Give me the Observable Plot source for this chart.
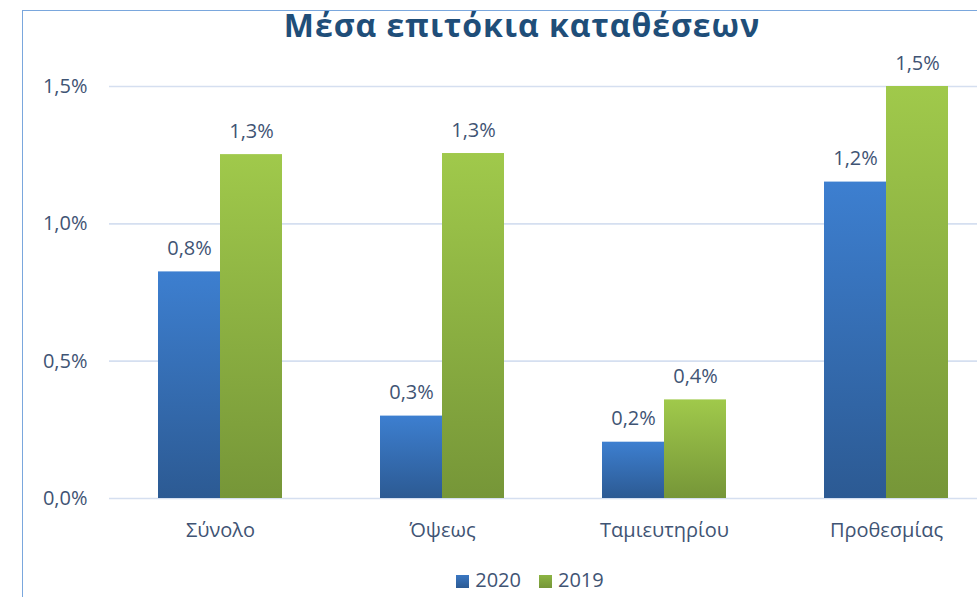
<!DOCTYPE html>
<html><head><meta charset="utf-8">
<script src="https://cdn.jsdelivr.net/npm/d3@7"></script>
<script src="https://cdn.jsdelivr.net/npm/@observablehq/plot@0.6"></script>
<style>
body{margin:0;background:#fff;}
#wrap{position:relative;width:977px;height:597px;overflow:hidden;font-family:"Open Sans",sans-serif;background:#fff;}
#frame{position:absolute;left:22px;top:10px;width:1100px;height:800px;border-left:1.5px solid #7aa7dd;border-top:1.5px solid #7aa7dd;}
#title{position:absolute;left:22px;width:1000px;top:5px;text-align:center;font-weight:700;font-size:32px;letter-spacing:1px;color:#1f4e79;line-height:40px;}
#chart{position:absolute;left:0;top:50px;}
#legend{position:absolute;left:0;width:1060px;top:566px;display:flex;justify-content:center;gap:18px;font-size:20px;color:#3f5474;line-height:28px;}
#legend span.sw{display:inline-block;width:13px;height:13px;margin-right:6px;vertical-align:-1px;}
</style></head>
<body>
<div id="wrap">
  <div id="frame"></div>
  <div id="title">Μέσα επιτόκια καταθέσεων</div>
  <div id="chart"></div>
  <div id="legend"></div>
</div>
<script>
const categories = ["Σύνολο", "Όψεως", "Ταμιευτηρίου", "Προθεσμίας"];
const series = ["2020", "2019"];
const values2020 = [0.825, 0.30, 0.205, 1.152];
const values2019 = [1.252, 1.256, 0.359, 1.50];
const yTicks = [0, 0.5, 1.0, 1.5];
const seriesColors = {"2020": "#3a77c2", "2019": "#8cb443"};

const rows = [];
categories.forEach((c, i) => {
  rows.push({category: c, series: "2020", value: values2020[i]});
  rows.push({category: c, series: "2019", value: values2019[i]});
});
const fmt = v => d3.format(".1f")(v).replace(".", ",") + "%";
const textColor = "#3f5474";

const chart = Plot.plot({
  width: 977,
  height: 500,
  marginLeft: 108,
  marginRight: 0,
  marginTop: 36,
  marginBottom: 52,
  style: {fontFamily: "'Open Sans', sans-serif", fontSize: "20px", color: textColor, background: "transparent", overflow: "visible"},
  fx: {domain: categories, range: [108, 998.7], padding: 0, label: null},
  x: {domain: series, paddingInner: 0, paddingOuter: 0.767, axis: null},
  y: {domain: [0, 1.5], nice: false, label: null},
  marks: [
    Plot.ruleY(yTicks, {stroke: "#d5dff0", strokeWidth: 1.6}),
    Plot.barY(rows.filter(d => d.series === "2020"), {fx: "category", x: "series", y: "value", fill: "url(#g2020)", inset: 0}),
    Plot.barY(rows.filter(d => d.series === "2019"), {fx: "category", x: "series", y: "value", fill: "url(#g2019)", inset: 0}),
    Plot.text(rows, {fx: "category", x: "series", y: "value", text: d => fmt(d.value), lineAnchor: "bottom", dy: -17, fill: textColor, fontSize: 20}),
    Plot.axisY(yTicks, {tickSize: 0, tickPadding: 22, tickFormat: fmt, fontSize: 20}),
    Plot.axisFx({anchor: "bottom", tickSize: 0, tickPadding: 24, fontSize: 20, label: null})
  ]
});

const ns = "http://www.w3.org/2000/svg";
const defs = document.createElementNS(ns, "defs");
function grad(id, top, bottom) {
  const g = document.createElementNS(ns, "linearGradient");
  g.setAttribute("id", id);
  g.setAttribute("x1", "0"); g.setAttribute("y1", "0");
  g.setAttribute("x2", "0"); g.setAttribute("y2", "1");
  [[0, top], [1, bottom]].forEach(([o, c]) => {
    const s = document.createElementNS(ns, "stop");
    s.setAttribute("offset", o);
    s.setAttribute("stop-color", c);
    g.appendChild(s);
  });
  defs.appendChild(g);
}
grad("g2020", "#3d7fd0", "#2c5a93");
grad("g2019", "#a0c94b", "#769638");
chart.insertBefore(defs, chart.firstChild);
document.getElementById("chart").appendChild(chart);

const legend = document.getElementById("legend");
series.forEach(s => {
  const item = document.createElement("div");
  const sw = document.createElement("span");
  sw.className = "sw";
  sw.style.background = `linear-gradient(${seriesColors[s]}, ${s === "2020" ? "#2c5a93" : "#769638"})`;
  item.appendChild(sw);
  item.appendChild(document.createTextNode(s));
  legend.appendChild(item);
});
</script>
</body></html>
